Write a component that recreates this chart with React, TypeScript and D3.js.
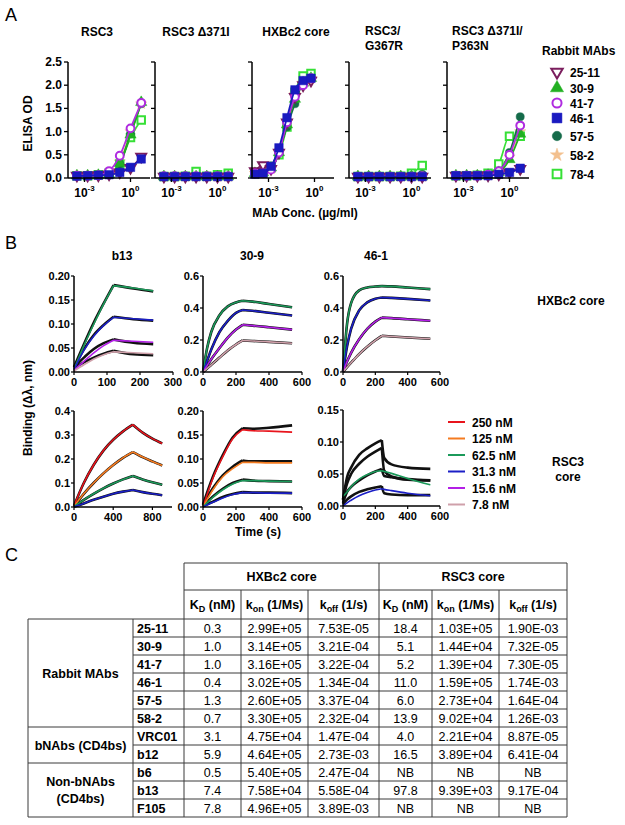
import React from 'react';
import * as d3 from 'd3';

const FONT = "'Liberation Sans', Arial, Helvetica, sans-serif";

// ================= Panel A data =================
const mabNames = ['25-11', '30-9', '41-7', '46-1', '57-5', '58-2', '78-4'];
const antigenTitles = [['RSC3'], ['RSC3 Δ371I'], ['HXBc2 core'], ['RSC3/', 'G367R'], ['RSC3 Δ371I/', 'P363N']];
const concStd = [0.00032, 0.0016, 0.008, 0.04, 0.2, 1, 5];
const concHX = [0.00013, 0.00044, 0.00146, 0.0048, 0.016, 0.053, 0.18, 0.59];

const odRSC3 = [
  [0.05, 0.05, 0.06, 0.08, 0.12, 0.22, 0.46],
  [0.05, 0.05, 0.06, 0.08, 0.32, 0.93, 1.63],
  [0.05, 0.05, 0.06, 0.15, 0.48, 1.07, 1.62],
  [0.04, 0.05, 0.06, 0.07, 0.12, 0.23, 0.41],
  [0.05, 0.05, 0.06, 0.09, 0.3, 0.95, 1.6],
  [0.05, 0.05, 0.06, 0.1, 0.35, 1.0, 1.6],
  [0.05, 0.05, 0.07, 0.1, 0.3, 0.87, 1.25],
];
const odD371I = [
  [0.03, 0.03, 0.03, 0.03, 0.03, 0.03, 0.03],
  [0.03, 0.03, 0.03, 0.03, 0.03, 0.03, 0.03],
  [0.04, 0.04, 0.04, 0.04, 0.04, 0.04, 0.04],
  [0.03, 0.03, 0.03, 0.03, 0.03, 0.03, 0.03],
  [0.03, 0.03, 0.03, 0.03, 0.03, 0.03, 0.03],
  [0.03, 0.03, 0.03, 0.03, 0.03, 0.03, 0.03],
  [0.03, 0.03, 0.04, 0.14, 0.04, 0.07, 0.1],
];
const odHX = [
  [0.15, 0.28, 0.2, 0.55, 1.2, 1.75, 2.0, 2.1],
  [0.1, 0.12, 0.22, 0.55, 1.15, 1.7, 2.05, 2.15],
  [0.1, 0.1, 0.18, 0.55, 1.2, 1.75, 2.0, 2.15],
  [0.08, 0.1, 0.25, 0.65, 1.3, 1.9, 2.1, 2.15],
  [0.1, 0.1, 0.25, 0.6, 1.1, 1.6, 2.05, 2.15],
  [0.1, 0.1, 0.2, 0.55, 1.2, 1.8, 2.05, 2.15],
  [0.1, 0.12, 0.22, 0.5, 1.1, 1.85, 2.2, 2.25],
];
const odG367R = [
  [0.03, 0.03, 0.03, 0.03, 0.03, 0.03, 0.03],
  [0.03, 0.03, 0.03, 0.03, 0.03, 0.03, 0.03],
  [0.03, 0.03, 0.03, 0.03, 0.03, 0.03, 0.04],
  [0.03, 0.03, 0.03, 0.03, 0.03, 0.03, 0.03],
  [0.03, 0.03, 0.03, 0.03, 0.03, 0.05, 0.08],
  [0.03, 0.03, 0.03, 0.03, 0.03, 0.03, 0.03],
  [0.03, 0.03, 0.03, 0.03, 0.04, 0.1, 0.27],
];
const odP363N = [
  [0.05, 0.05, 0.05, 0.06, 0.08, 0.12, 0.2],
  [0.05, 0.05, 0.05, 0.06, 0.12, 0.4, 0.95],
  [0.05, 0.05, 0.05, 0.07, 0.15, 0.5, 1.13],
  [0.05, 0.05, 0.05, 0.05, 0.08, 0.12, 0.21],
  [0.05, 0.05, 0.05, 0.07, 0.15, 0.55, 1.32],
  [0.05, 0.05, 0.05, 0.06, 0.12, 0.45, 1.0],
  [0.05, 0.05, 0.06, 0.1, 0.3, 0.9, 0.9],
];
const yTicksA = [0, 0.5, 1.0, 1.5, 2.0, 2.5];
const xTicksA = [1e-3, 1];
const xTickExpA = ['-3', '0'];

// ================= Panel B data =================
const concLabels = ['250 nM', '125 nM', '62.5 nM', '31.3 nM', '15.6 nM', '7.8 nM'];
const bTitles = ['b13', '30-9', '46-1'];

// row 1: HXBc2 core (62.5, 31.3, 15.6, 7.8 nM)
const tB13H = [0, 30, 60, 90, 120, 180, 240];
const fitB13H = [
  [0.005, 0.055, 0.1, 0.142, 0.18, 0.175, 0.169],
  [0.005, 0.045, 0.075, 0.097, 0.114, 0.111, 0.108],
  [0.003, 0.022, 0.04, 0.055, 0.066, 0.064, 0.062],
  [0.002, 0.015, 0.027, 0.036, 0.042, 0.04, 0.038],
];
const obsB13H = [
  [0.01, 0.058, 0.103, 0.143, 0.181, 0.174, 0.168],
  [0.01, 0.047, 0.077, 0.098, 0.115, 0.11, 0.107],
  [0.01, 0.03, 0.048, 0.06, 0.068, 0.061, 0.058],
  [0.008, 0.02, 0.03, 0.038, 0.044, 0.037, 0.035],
];
const t309H = [0, 25, 50, 100, 150, 200, 240, 300, 400, 540];
const fit309H = [
  [0, 0.15, 0.25, 0.355, 0.41, 0.435, 0.445, 0.44, 0.425, 0.405],
  [0, 0.07, 0.14, 0.25, 0.32, 0.37, 0.388, 0.383, 0.37, 0.353],
  [0, 0.04, 0.08, 0.15, 0.215, 0.265, 0.295, 0.29, 0.28, 0.265],
  [0, 0.022, 0.045, 0.09, 0.135, 0.172, 0.197, 0.194, 0.188, 0.18],
];
const t461H = [0, 25, 50, 100, 150, 200, 240, 300, 400, 540];
const fit461H = [
  [0, 0.3, 0.43, 0.51, 0.528, 0.534, 0.537, 0.535, 0.528, 0.518],
  [0, 0.16, 0.27, 0.385, 0.435, 0.458, 0.466, 0.463, 0.457, 0.447],
  [0, 0.065, 0.12, 0.205, 0.27, 0.315, 0.34, 0.337, 0.33, 0.32],
  [0, 0.03, 0.058, 0.112, 0.158, 0.198, 0.226, 0.222, 0.216, 0.208],
];
// row 2: RSC3 core
const tB13R = [0, 100, 200, 300, 400, 500, 600, 700, 800, 900];
const fitB13R = [
  [0.005, 0.1, 0.175, 0.235, 0.28, 0.315, 0.343, 0.31, 0.285, 0.265],
  [0.003, 0.055, 0.1, 0.14, 0.175, 0.205, 0.229, 0.208, 0.19, 0.173],
  [0.002, 0.03, 0.055, 0.078, 0.098, 0.115, 0.129, 0.115, 0.103, 0.093],
  [0.001, 0.015, 0.03, 0.043, 0.055, 0.064, 0.071, 0.062, 0.055, 0.049],
];
const t309R = [0, 60, 120, 180, 240, 300, 400, 540];
const fit309R = [
  [0, 0.06, 0.105, 0.142, 0.161, 0.159, 0.158, 0.156],
  [0, 0.036, 0.063, 0.08, 0.093, 0.093, 0.092, 0.092],
  [0, 0.02, 0.036, 0.048, 0.055, 0.055, 0.054, 0.053],
  [0, 0.01, 0.019, 0.026, 0.03, 0.03, 0.029, 0.029],
];
const obs309R = [
  [0.005, 0.063, 0.108, 0.145, 0.164, 0.163, 0.165, 0.17],
  [0.005, 0.039, 0.066, 0.084, 0.097, 0.095, 0.095, 0.095],
  [0.003, 0.022, 0.038, 0.05, 0.057, 0.055, 0.054, 0.053],
  [0.002, 0.011, 0.021, 0.027, 0.031, 0.03, 0.03, 0.029],
];
const t461R = [0, 25, 50, 100, 150, 200, 240, 255, 300, 400, 540];
const fit461R = [
  [0.015, 0.022, 0.03, 0.042, 0.049, 0.054, 0.055, 0.054, 0.051, 0.043, 0.033],
  [0, 0.005, 0.009, 0.016, 0.021, 0.025, 0.027, 0.026, 0.024, 0.02, 0.016],
];
const obs461R = [
  [0.01, 0.045, 0.06, 0.08, 0.09, 0.098, 0.103, 0.075, 0.065, 0.06, 0.058],
  [0.01, 0.035, 0.05, 0.066, 0.077, 0.085, 0.091, 0.055, 0.046, 0.041, 0.04],
  [0.005, 0.022, 0.03, 0.04, 0.048, 0.054, 0.058, 0.047, 0.045, 0.042, 0.04],
  [0.003, 0.01, 0.015, 0.022, 0.026, 0.029, 0.031, 0.02, 0.018, 0.017, 0.017],
];

// ================= Panel C data =================
const groupNames = [['Rabbit MAbs'], ['bNAbs (CD4bs)'], ['Non-bNAbs', '(CD4bs)']];
const groupSpans = [[0, 6], [6, 8], [8, 11]];
const abNames = ['25-11', '30-9', '41-7', '46-1', '57-5', '58-2', 'VRC01', 'b12', 'b6', 'b13', 'F105'];
const kdHX = ['0.3', '1.0', '1.0', '0.4', '1.3', '0.7', '3.1', '5.9', '0.5', '7.4', '7.8'];
const konHX = ['2.99E+05', '3.14E+05', '3.16E+05', '3.02E+05', '2.60E+05', '3.30E+05', '4.75E+04', '4.64E+05', '5.40E+05', '7.58E+04', '4.96E+05'];
const koffHX = ['7.53E-05', '3.21E-04', '3.22E-04', '1.34E-04', '3.37E-04', '2.32E-04', '1.47E-04', '2.73E-03', '2.47E-04', '5.58E-04', '3.89E-03'];
const kdRSC3 = ['18.4', '5.1', '5.2', '11.0', '6.0', '13.9', '4.0', '16.5', 'NB', '97.8', 'NB'];
const konRSC3 = ['1.03E+05', '1.44E+04', '1.39E+04', '1.59E+05', '2.73E+04', '9.02E+04', '2.21E+04', '3.89E+04', 'NB', '9.39E+03', 'NB'];
const koffRSC3 = ['1.90E-03', '7.32E-05', '7.30E-05', '1.74E-03', '1.64E-04', '1.26E-03', '8.87E-05', '6.41E-04', 'NB', '9.17E-04', 'NB'];

// ================= Styles =================
const mabColors = ['#7B1E5E', '#22B022', '#B02CE0', '#1A1AC0', '#156B4A', '#F3C08E', '#36E036'];
const mabShapes = [d3.symbolTriangle, d3.symbolTriangle, d3.symbolCircle, d3.symbolSquare, d3.symbolCircle, d3.symbolStar, d3.symbolSquare];
const mabRot = [180, 0, 0, 0, 0, 0, 0];
const mabFilled = [false, true, false, true, true, true, false];
const mabSize = [42, 55, 48, 72, 52, 40, 56];
const drawOrder = [5, 6, 4, 1, 0, 2, 3];
const concColors = ['#E8141C', '#F47B20', '#1B9A5A', '#1B1FC6', '#B31FE6', '#CFA0AA'];

const A_LEFTS = [68, 155, 252, 349, 447];
const A_W = 82;
const A_TOP = 62;
const A_BOT = 178;

function Marker({ i, x, y, scale = 1 }: any) {
  const p = d3.symbol().type(mabShapes[i]).size(mabSize[i] * scale)() as string;
  const c = mabColors[i];
  return (
    <path
      d={p}
      transform={`translate(${x},${y}) rotate(${mabRot[i]})`}
      fill={mabFilled[i] ? c : '#fff'}
      stroke={c}
      strokeWidth={mabFilled[i] ? 0.5 : 2}
    />
  );
}

function ElisaPlot({ idx, conc, od }: any) {
  const L = A_LEFTS[idx];
  const x = d3.scaleLog().domain([Math.pow(10, -4.076), Math.pow(10, 1.272)]).range([L, L + A_W]);
  const y = d3.scaleLinear().domain([0, 2.5]).range([A_BOT, A_TOP]);
  const line = d3.line<number>().x((_, k) => x(conc[k])).y((v) => y(v)).curve(d3.curveMonotoneX);
  const title = antigenTitles[idx];
  const titleEls =
    title.length === 1 ? (
      <text x={[97, 196, 296][idx]} y={36} textAnchor="middle" fontWeight="bold" fontSize={12}>
        {title[0]}
      </text>
    ) : (
      title.map((t, k) => (
        <text key={k} x={[0, 0, 0, 365, 452][idx]} y={35 + k * 15} fontWeight="bold" fontSize={12}>
          {t}
        </text>
      ))
    );
  return (
    <g>
      {titleEls}
      {drawOrder.map((m) => (
        <g key={m}>
          <path d={line(od[m]) as string} fill="none" stroke={mabColors[m]} strokeWidth={1.7} />
          {od[m].map((v: number, k: number) => (
            <Marker key={k} i={m} x={x(conc[k])} y={y(v)} />
          ))}
        </g>
      ))}
      <line x1={L} x2={L} y1={A_TOP} y2={A_BOT} stroke="#000" strokeWidth={1.5} />
      <line x1={L} x2={L + A_W} y1={A_BOT} y2={A_BOT} stroke="#000" strokeWidth={1.5} />
      {yTicksA.map((t) => (
        <g key={t}>
          <line x1={L - 4} x2={L} y1={y(t)} y2={y(t)} stroke="#000" strokeWidth={1.3} />
          {idx === 0 && (
            <text x={L - 6} y={y(t) + 4} textAnchor="end" fontWeight="bold" fontSize={12}>
              {t.toFixed(1)}
            </text>
          )}
        </g>
      ))}
      {xTicksA.map((t, k) => (
        <g key={t}>
          <line x1={x(t)} x2={x(t)} y1={A_BOT} y2={A_BOT + 4} stroke="#000" strokeWidth={1.3} />
          <text x={x(t)} y={197} textAnchor="middle" fontWeight="bold" fontSize={12}>
            <tspan>10</tspan>
            <tspan dy={-6} fontSize={8}>{xTickExpA[k]}</tspan>
          </text>
        </g>
      ))}
    </g>
  );
}

function KinPlot({ x0, x1, yTop, yBot, xDomain, yDomain, xTicks, yTicks, yDec, times, breakT, fits, fitColors, obs }: any) {
  const x = d3.scaleLinear().domain(xDomain).range([x0, x1]);
  const y = d3.scaleLinear().domain(yDomain).range([yBot, yTop]);
  const bi = times.indexOf(breakT);
  const seg = (vals: number[]) => {
    const pts = times.map((t: number, k: number) => [t, vals[k]] as [number, number]);
    const ln = d3.line<[number, number]>().x((d) => x(d[0])).y((d) => y(d[1])).curve(d3.curveMonotoneX);
    return (ln(pts.slice(0, bi + 1)) as string) + (ln(pts.slice(bi)) as string);
  };
  return (
    <g>
      {obs.map((o: number[], k: number) => (
        <path key={'o' + k} d={seg(o)} fill="none" stroke="#111" strokeWidth={2.6} strokeLinejoin="round" />
      ))}
      {fits.map((f: number[], k: number) => (
        <path key={'f' + k} d={seg(f)} fill="none" stroke={fitColors[k]} strokeWidth={1.6} />
      ))}
      <line x1={x0} x2={x0} y1={yTop} y2={yBot} stroke="#000" strokeWidth={1.5} />
      <line x1={x0} x2={x1} y1={yBot} y2={yBot} stroke="#000" strokeWidth={1.5} />
      {yTicks.map((t: number) => (
        <g key={t}>
          <line x1={x0 - 3} x2={x0} y1={y(t)} y2={y(t)} stroke="#000" strokeWidth={1.2} />
          <text x={x0 - 4} y={y(t) + 4} textAnchor="end" fontWeight="bold" fontSize={11}>
            {t.toFixed(yDec)}
          </text>
        </g>
      ))}
      {xTicks.map((t: number) => (
        <g key={t}>
          <line x1={x(t)} x2={x(t)} y1={yBot} y2={yBot + 3} stroke="#000" strokeWidth={1.2} />
          <text x={x(t)} y={yBot + 14} textAnchor="middle" fontWeight="bold" fontSize={11}>
            {t}
          </text>
        </g>
      ))}
    </g>
  );
}

function Table() {
  const cols = [28, 133, 184, 241, 308, 379, 432, 499, 567];
  const top = 563;
  const h1 = 590;
  const h2 = 619;
  const rh = 18;
  const bottom = h2 + rh * abNames.length;
  const stroke = '#3a3a3a';
  const fs = 12.5;
  const cellCols = [kdHX, konHX, koffHX, kdRSC3, konRSC3, koffRSC3];
  const hdr = [
    ['K', 'D', ' (nM)'],
    ['k', 'on', ' (1/Ms)'],
    ['k', 'off', ' (1/s)'],
  ];
  const lines: any[] = [];
  lines.push([cols[2], top, cols[8], top]);
  lines.push([cols[2], h1, cols[8], h1]);
  lines.push([cols[0], h2, cols[8], h2]);
  abNames.forEach((_, i) => {
    const yy = h2 + rh * (i + 1);
    const isGroupEnd = groupSpans.some((g) => g[1] === i + 1);
    lines.push([isGroupEnd ? cols[0] : cols[1], yy, cols[8], yy]);
  });
  lines.push([cols[0], h2, cols[0], bottom]);
  lines.push([cols[1], h2, cols[1], bottom]);
  lines.push([cols[2], top, cols[2], bottom]);
  [3, 4, 6, 7].forEach((c) => lines.push([cols[c], h1, cols[c], bottom]));
  lines.push([cols[5], top, cols[5], bottom]);
  lines.push([cols[8], top, cols[8], bottom]);
  return (
    <g fontSize={fs}>
      {lines.map((l, k) => (
        <line key={k} x1={l[0]} y1={l[1]} x2={l[2]} y2={l[3]} stroke={stroke} strokeWidth={1} />
      ))}
      <text x={(cols[2] + cols[5]) / 2} y={581} textAnchor="middle" fontWeight="bold">HXBc2 core</text>
      <text x={(cols[5] + cols[8]) / 2} y={581} textAnchor="middle" fontWeight="bold">RSC3 core</text>
      {[0, 1].map((b) =>
        hdr.map((hh, k) => {
          const c = 2 + b * 3 + k;
          return (
            <text key={b + '-' + k} x={(cols[c] + cols[c + 1]) / 2} y={609} textAnchor="middle" fontWeight="bold">
              <tspan>{hh[0]}</tspan>
              <tspan fontSize={9} dy={3}>{hh[1]}</tspan>
              <tspan dy={-3}>{hh[2]}</tspan>
            </text>
          );
        })
      )}
      {abNames.map((n, i) => (
        <g key={n}>
          <text x={cols[1] + 4} y={h2 + rh * i + 13.5} fontWeight="bold">{n}</text>
          {cellCols.map((arr, c) => (
            <text key={c} x={(cols[c + 2] + cols[c + 3]) / 2} y={h2 + rh * i + 13.5} textAnchor="middle">
              {arr[i]}
            </text>
          ))}
        </g>
      ))}
      {groupNames.map((g, k) => {
        const cy = h2 + rh * (groupSpans[k][0] + groupSpans[k][1]) / 2;
        return g.map((t, j) => (
          <text key={k + '-' + j} x={(cols[0] + cols[1]) / 2} y={cy + 4.5 + (j - (g.length - 1) / 2) * 17} textAnchor="middle" fontWeight="bold">
            {t}
          </text>
        ));
      })}
    </g>
  );
}

export default function App() {
  const aSets = [
    { conc: concStd, od: odRSC3 },
    { conc: concStd, od: odD371I },
    { conc: concHX, od: odHX },
    { conc: concStd, od: odG367R },
    { conc: concStd, od: odP363N },
  ];
  const legendY = [72, 88, 103, 118, 136, 155, 174];
  const bLegY = [422, 438.5, 455, 471.5, 488, 504.5];
  const rowFitColors = [concColors[2], concColors[3], concColors[4], concColors[5]];
  const row2Colors = [concColors[0], concColors[1], concColors[2], concColors[3]];
  return (
    <svg width={625} height={825} style={{ position: 'absolute', left: 0, top: 0 }} fontFamily={FONT}>
      <rect width={625} height={825} fill="#fff" />
      {/* Panel A */}
      <text x={5} y={21} fontSize={18}>A</text>
      <text transform="translate(32,123.5) rotate(-90)" textAnchor="middle" fontWeight="bold" fontSize={12}>ELISA OD</text>
      {aSets.map((s, i) => (
        <ElisaPlot key={i} idx={i} conc={s.conc} od={s.od} />
      ))}
      <text x={305} y={217} textAnchor="middle" fontWeight="bold" fontSize={12}>MAb Conc. (µg/ml)</text>
      <text x={542} y={55} fontWeight="bold" fontSize={12}>Rabbit MAbs</text>
      {mabNames.map((n, i) => (
        <g key={n}>
          <Marker i={i} x={557} y={legendY[i]} scale={1.35} />
          <text x={570} y={legendY[i] + 4.5} fontWeight="bold" fontSize={12}>{n}</text>
        </g>
      ))}

      {/* Panel B */}
      <text x={5} y={249} fontSize={18}>B</text>
      {bTitles.map((t, i) => (
        <text key={t} x={[122, 252, 376][i]} y={260} textAnchor="middle" fontWeight="bold" fontSize={12}>{t}</text>
      ))}
      <text transform="translate(32,408) rotate(-90)" textAnchor="middle" fontWeight="bold" fontSize={12}>Binding (Δλ, nm)</text>
      <KinPlot x0={74} x1={173} yTop={276} yBot={372} xDomain={[0, 300]} yDomain={[0, 0.2]} xTicks={[0, 100, 200, 300]} yTicks={[0, 0.05, 0.1, 0.15, 0.2]} yDec={2} times={tB13H} breakT={120} fits={fitB13H} fitColors={rowFitColors} obs={obsB13H} />
      <KinPlot x0={203} x1={302} yTop={276} yBot={372} xDomain={[0, 600]} yDomain={[0, 0.6]} xTicks={[0, 200, 400, 600]} yTicks={[0, 0.2, 0.4, 0.6]} yDec={1} times={t309H} breakT={240} fits={fit309H} fitColors={rowFitColors} obs={fit309H} />
      <KinPlot x0={343} x1={440} yTop={276} yBot={372} xDomain={[0, 600]} yDomain={[0, 0.6]} xTicks={[0, 200, 400, 600]} yTicks={[0, 0.2, 0.4, 0.6]} yDec={1} times={t461H} breakT={240} fits={fit461H} fitColors={rowFitColors} obs={fit461H} />
      <KinPlot x0={74} x1={172} yTop={411} yBot={507} xDomain={[0, 1000]} yDomain={[0, 0.4]} xTicks={[0, 400, 800]} yTicks={[0, 0.1, 0.2, 0.3, 0.4]} yDec={1} times={tB13R} breakT={600} fits={fitB13R} fitColors={row2Colors} obs={fitB13R} />
      <KinPlot x0={203} x1={302} yTop={411} yBot={507} xDomain={[0, 600]} yDomain={[0, 0.2]} xTicks={[0, 200, 400, 600]} yTicks={[0, 0.05, 0.1, 0.15, 0.2]} yDec={2} times={t309R} breakT={240} fits={fit309R} fitColors={row2Colors} obs={obs309R} />
      <KinPlot x0={343} x1={440} yTop={410} yBot={506} xDomain={[0, 600]} yDomain={[0, 0.15]} xTicks={[0, 200, 400, 600]} yTicks={[0, 0.05, 0.1, 0.15]} yDec={2} times={t461R} breakT={240} fits={fit461R} fitColors={[concColors[2], concColors[3]]} obs={obs461R} />
      <text x={258} y={536} textAnchor="middle" fontWeight="bold" fontSize={12}>Time (s)</text>
      <text x={571} y={305} textAnchor="middle" fontWeight="bold" fontSize={12}>HXBc2 core</text>
      <text x={568} y={466} textAnchor="middle" fontWeight="bold" fontSize={12}>RSC3</text>
      <text x={568} y={481} textAnchor="middle" fontWeight="bold" fontSize={12}>core</text>
      {concLabels.map((c, i) => (
        <g key={c}>
          <line x1={448} x2={465} y1={bLegY[i]} y2={bLegY[i]} stroke={concColors[i]} strokeWidth={2} />
          <text x={472} y={bLegY[i] + 4.5} fontWeight="bold" fontSize={12}>{c}</text>
        </g>
      ))}

      {/* Panel C */}
      <text x={5} y={561} fontSize={18}>C</text>
      <Table />
    </svg>
  );
}
